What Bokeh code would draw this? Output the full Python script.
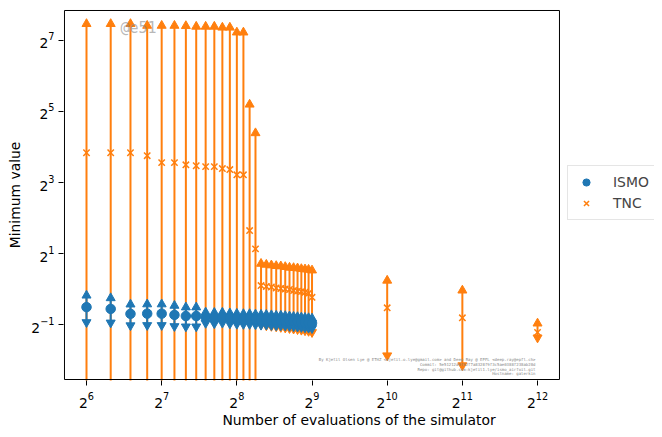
import math
from bokeh.plotting import figure
from bokeh.models import (Range1d, FixedTicker, LogTicker, LogTickFormatter,
                          Legend, LegendItem, Label, BoxAnnotation)
from bokeh.embed import file_html
from bokeh.resources import INLINE

# ---------------- data ----------------
evals = [64, 80, 96, 112, 128, 144, 160, 176, 192, 208, 224, 240, 256, 272,
         288, 304, 320, 336, 352, 368, 384, 400, 416, 432, 448, 464, 480, 496, 512]

ismo_mean = [0.702, 0.678, 0.616, 0.618, 0.618, 0.603, 0.590, 0.590, 0.574, 0.570,
             0.574, 0.566, 0.562, 0.559, 0.559, 0.555, 0.551, 0.551, 0.547, 0.543,
             0.543, 0.540, 0.536, 0.532, 0.529, 0.525, 0.521, 0.518, 0.514]
ismo_std = [0.180, 0.160, 0.125, 0.125, 0.125, 0.120, 0.110, 0.110, 0.060, 0.060,
            0.058, 0.058, 0.057, 0.056, 0.056, 0.055, 0.055, 0.054, 0.054, 0.053,
            0.053, 0.052, 0.052, 0.051, 0.051, 0.050, 0.050, 0.050, 0.050]

tnc_evals = evals + [1024, 2048, 4096]
tnc_mean = [14.3, 14.3, 14.3, 13.5, 11.8, 11.8, 11.3, 11.1, 10.9, 10.9, 10.5, 10.3,
            9.3, 9.3, 3.13, 2.19, 1.07, 1.05, 1.04, 1.02, 1.01, 1.00, 0.99, 0.97,
            0.96, 0.95, 0.94, 0.92, 0.85, 0.693, 0.570, 0.429]
tnc_upper = [177.0, 177.0, 177.0, 171.0, 171.0, 171.0, 170.0, 168.0, 168.0, 168.0,
             165.0, 165.0, 150.0, 150.0, 36.7, 21.0, 1.64, 1.61, 1.59, 1.57, 1.56,
             1.54, 1.52, 1.51, 1.50, 1.48, 1.47, 1.46, 1.44, 1.18, 0.973, 0.511]
# the first 16 lower ends lie below the visible range
tnc_lower = [0.01] * 16 + [0.50, 0.49, 0.485, 0.48, 0.475, 0.47, 0.465, 0.46,
                           0.455, 0.45, 0.445, 0.44, 0.43, 0.273, 0.225, 0.387]

x_tick_exponents = [6, 7, 8, 9, 10, 11, 12]
y_tick_exponents = [-1, 1, 3, 5, 7]

footer_lines = [
    "By Kjetil Olsen Lye @ ETHZ <kjetil.o.lye@gmail.com> and Deep Ray @ EPFL <deep.ray@epfl.ch>",
    "Commit: 5e51212a9f62f7a8328f9f3c5ae0388f238ab28d",
    "Repo: git@github.com:kjetil1.lye/ismo_airfoil.git",
    "Hostname: galerkin",
]
watermark = "@e51"

BLUE = "#1f77b4"
ORANGE = "#ff7f0e"
FONT = "DejaVu Sans"

ismo_upper = [m + s for m, s in zip(ismo_mean, ismo_std)]
ismo_lower = [m - s for m, s in zip(ismo_mean, ismo_std)]

# axes box (log2 limits); the frame is wider to hold the legend on the right
X_LO, X_HI = 5.707, 12.292
Y_LO, Y_HI = -2.549, 7.845

p = figure(width=662, height=437,
           x_axis_type="log", y_axis_type="log",
           x_range=Range1d(2 ** 5.694, 2 ** 13.556),
           y_range=Range1d(2 ** -2.577, 2 ** 7.873),
           output_backend="svg", toolbar_location=None,
           min_border_left=63, min_border_top=9, min_border_right=8,
           min_border_bottom=57)

# TNC (drawn first, below ISMO)
p.segment(x0=tnc_evals, y0=tnc_lower, x1=tnc_evals, y1=tnc_upper,
          line_color=ORANGE, line_width=2)
p.scatter(x=tnc_evals, y=tnc_upper, marker="triangle", size=9,
          fill_color=ORANGE, line_color=ORANGE)
p.scatter(x=tnc_evals, y=tnc_lower, marker="inverted_triangle", size=9,
          fill_color=ORANGE, line_color=ORANGE)
tnc_pts = p.scatter(x=tnc_evals, y=tnc_mean, marker="x", size=9,
                    line_color=ORANGE, line_width=1.5)

# ISMO
p.segment(x0=evals, y0=ismo_lower, x1=evals, y1=ismo_upper,
          line_color=BLUE, line_width=2)
p.scatter(x=evals, y=ismo_upper, marker="triangle", size=9,
          fill_color=BLUE, line_color=BLUE)
p.scatter(x=evals, y=ismo_lower, marker="inverted_triangle", size=9,
          fill_color=BLUE, line_color=BLUE)
ismo_pts = p.scatter(x=evals, y=ismo_mean, marker="circle", size=9.5,
                     fill_color=BLUE, line_color=BLUE)

# mask anything right of the axes box (keeps the legend area clean)
p.add_layout(BoxAnnotation(left=2 ** X_HI, fill_color="white", fill_alpha=1,
                           line_color=None, level="underlay"))
p.add_layout(BoxAnnotation(left=2 ** X_LO, right=2 ** X_HI,
                           bottom=2 ** Y_LO, top=2 ** Y_HI,
                           fill_color=None, fill_alpha=0,
                           line_color="black", line_alpha=1, line_width=1))

# axes
fmt_x = LogTickFormatter(ticker=LogTicker(base=2))
fmt_y = LogTickFormatter(ticker=LogTicker(base=2))
p.xaxis.ticker = FixedTicker(ticks=[2 ** e for e in x_tick_exponents], minor_ticks=[])
p.yaxis.ticker = FixedTicker(ticks=[2 ** e for e in y_tick_exponents], minor_ticks=[])
p.xaxis.formatter = fmt_x
p.yaxis.formatter = fmt_y
p.xaxis.axis_label = "Number of evaluations of the simulator"
p.yaxis.axis_label = "Minimum value"
for ax in (p.xaxis, p.yaxis):
    ax.axis_label_text_font = FONT
    ax.axis_label_text_font_size = "13.9px"
    ax.axis_label_text_font_style = "normal"
    ax.axis_label_text_color = "black"
    ax.major_label_text_font = FONT
    ax.major_label_text_font_size = "13.9px"
    ax.major_label_text_color = "black"
    ax.major_tick_out = 5
    ax.major_tick_in = 0
    ax.minor_tick_out = 0
    ax.minor_tick_in = 0
    ax.major_tick_line_color = "black"
    ax.axis_line_color = None
p.xaxis.major_label_standoff = 6
p.yaxis.major_label_standoff = 4
p.xaxis.axis_label_standoff = 1
p.yaxis.axis_label_standoff = 5
p.grid.visible = False
p.outline_line_color = None
p.background_fill_color = "white"

# watermark and footer
p.add_layout(Label(x=2 ** 6.452, y=2 ** 7.338, text=watermark, text_font="DejaVu Sans Mono",
                   text_font_size="15px", text_color="#888888", text_alpha=0.6,
                   text_align="left", text_baseline="middle"))
for i, line in enumerate(footer_lines):
    p.add_layout(Label(x=2 ** 11.973, y=2 ** (-1.986 - 0.134 * i), text=line,
                       text_font="DejaVu Sans Mono", text_font_size="4px",
                       text_color="#888888", text_align="right", text_baseline="middle"))

legend = Legend(items=[LegendItem(label="ISMO", renderers=[ismo_pts]),
                       LegendItem(label="TNC", renderers=[tnc_pts])],
                location=(504, 160), margin=0, padding=7, spacing=3,
                glyph_width=22, glyph_height=18, label_standoff=16,
                label_text_font=FONT, label_text_font_size="13.9px",
                border_line_color="#cccccc", border_line_width=1,
                background_fill_color="white", background_fill_alpha=1)
p.add_layout(legend, "center")

open("out.html", "w").write(file_html(p, INLINE))
